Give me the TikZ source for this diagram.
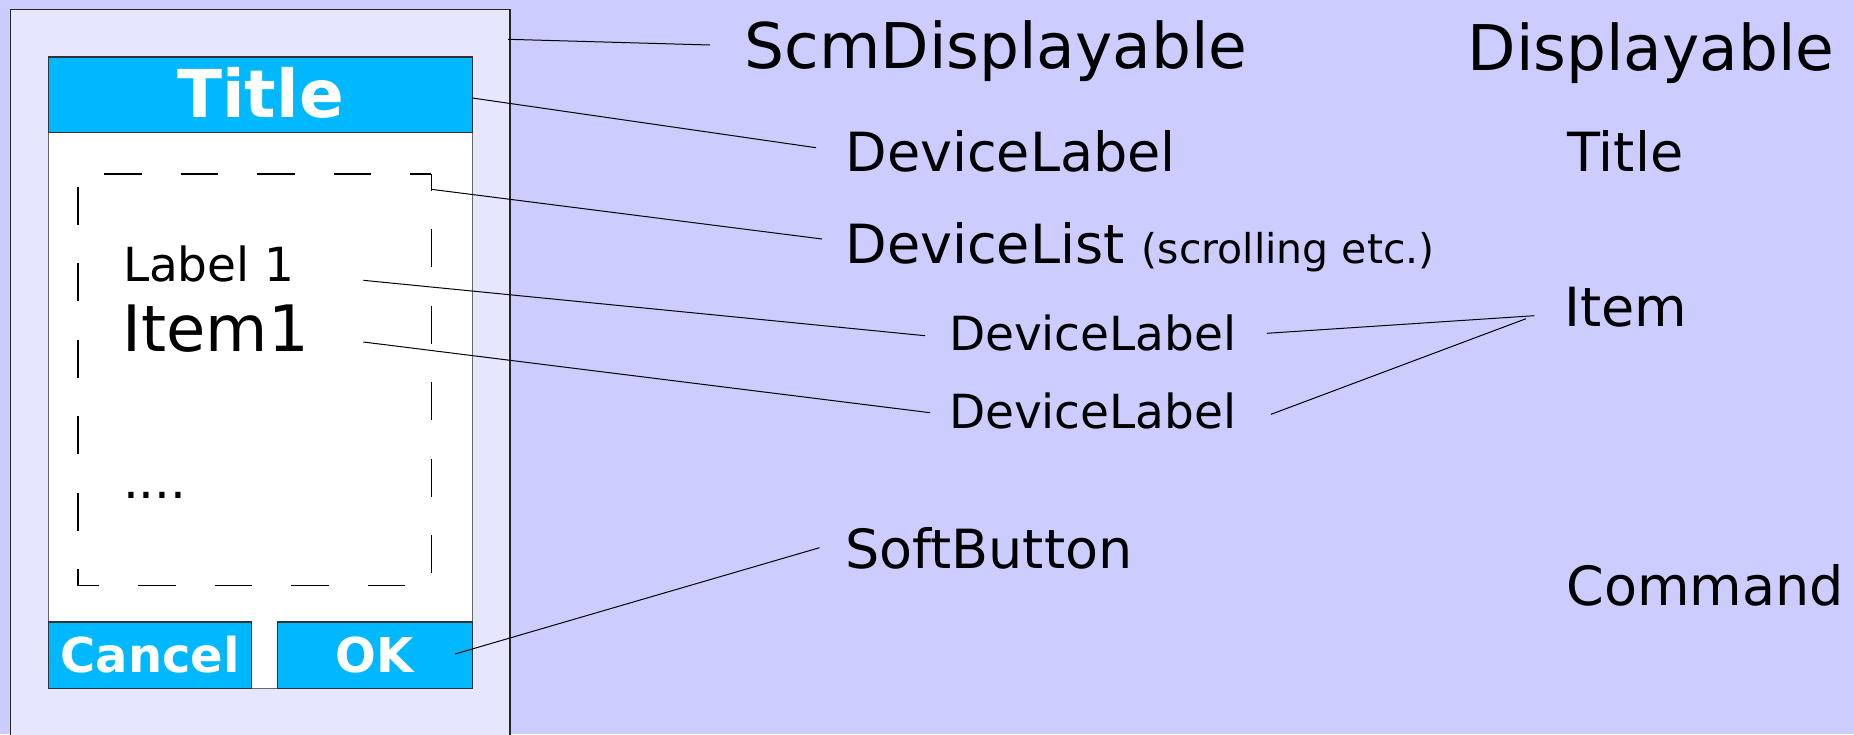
\documentclass[tikz,border=0pt]{standalone}
\usepackage{fontspec}
\setmainfont{DejaVu Sans}
\definecolor{bgc}{HTML}{CCCCFF}
\definecolor{panelc}{HTML}{E6E6FF}
\definecolor{barc}{HTML}{00B8FF}
\begin{document}
\begin{tikzpicture}[x=1pt,y=-1pt,line width=1pt,
  txt/.style={anchor=base west,inner sep=0pt,text=black},
  big/.style={txt,font=\fontsize{63}{70}\selectfont},
  mid/.style={txt,font=\fontsize{54}{60}\selectfont},
  sml/.style={txt,font=\fontsize{47}{52}\selectfont},
  bartxt/.style={anchor=base,inner sep=0pt,text=white,font=\bfseries\fontsize{48}{54}\selectfont},
  barbox/.style={draw=black!80,fill=barc,line width=1.3pt},
  conn/.style={draw=black,line width=1pt}]
\useasboundingbox (0,0) rectangle (1854,734);
\fill[bgc] (0,0) rectangle (1854,734);
% outer panel (ScmDisplayable)
\draw[fill=panelc,draw=black!85,line width=1.3pt] (10.7,9.3) rectangle (510,745);
% phone screen
\draw[fill=white,draw=black!60,line width=1.3pt] (48.7,57) rectangle (472.3,688.7);
% title bar
\draw[barbox] (48.7,57) rectangle (472.3,132.3);
\node[anchor=base,inner sep=0pt,text=white,font=\bfseries\fontsize{66}{72}\selectfont] (titletxt) at (260.5,117.3) {Title};
% dashed list box
\draw[line width=1.3pt,dash pattern=on 37.8pt off 38.7pt,dash phase=21.3pt]
  (431.3,174) -- (431.3,585.7) -- (78,585.7) -- (78,174) -- cycle;
\node[txt,font=\fontsize{47}{53}\selectfont] (label1) at (122.5,281.7) {Label 1};
\node[txt,font=\fontsize{64}{70}\selectfont] (item1) at (122,351.7) {Item1};
\node[txt,font=\fontsize{50}{56}\selectfont] (dots) at (122.5,498) {....};
% buttons
\draw[barbox] (48.7,622) rectangle (251.7,688.7);
\draw[barbox] (277.3,622) rectangle (472.3,688.7);
\node[bartxt] (cancel) at (150.2,672.3) {Cancel};
\node[bartxt] (ok) at (374.8,672.3) {OK};
% labels middle column
\node[big] (scm) at (744,68.5) {ScmDisplayable};
\node[mid] (dl1) at (845,171.7) {DeviceLabel};
\node[mid] (dlist) at (845,263.3) {DeviceList {\fontsize{41}{46}\selectfont(scrolling etc.)}};
\node[sml] (dl2) at (948.5,350) {DeviceLabel};
\node[sml] (dl3) at (948.5,428.3) {DeviceLabel};
\node[mid] (soft) at (844.5,568.3) {SoftButton};
% right column
\node[big] (disp) at (1467,70) {Displayable};
\node[mid] (rtitle) at (1567,171.7) {Title};
\node[mid] (ritem) at (1564,326.7) {Item};
\node[mid] (rcmd) at (1566,605) {Command};
% connector end points
\coordinate (a1) at (508,39.3);   \coordinate (a2) at (710,45);
\coordinate (b1) at (472.3,98);   \coordinate (b2) at (816,147.7);
\coordinate (c1) at (431.3,189.3);\coordinate (c2) at (822,239);
\coordinate (d1) at (363.3,280.3);\coordinate (d2) at (925,335.7);
\coordinate (e1) at (363.3,342);  \coordinate (e2) at (930,412.7);
\coordinate (f1) at (455,654);    \coordinate (f2) at (819.5,547.7);
\coordinate (g1) at (1266.8,333.3);\coordinate (g2) at (1534.3,315.7);
\coordinate (h1) at (1271,414.3); \coordinate (h2) at (1526,318.7);
\draw[conn] (a1) -- (a2);
\draw[conn] (b1) -- (b2);
\draw[conn] (c1) -- (c2);
\draw[conn] (d1) -- (d2);
\draw[conn] (e1) -- (e2);
\draw[conn] (f1) -- (f2);
\draw[conn] (g1) -- (g2);
\draw[conn] (h1) -- (h2);
\end{tikzpicture}
\end{document}
